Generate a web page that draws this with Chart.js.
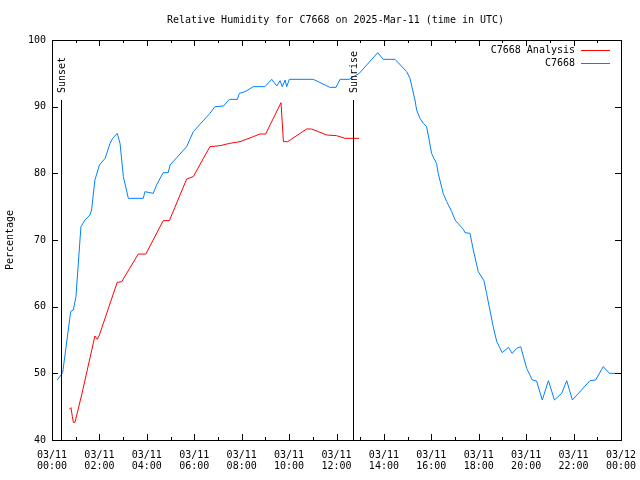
<!DOCTYPE html>
<html>
<head>
<meta charset="utf-8">
<title>Relative Humidity C7668</title>
<script src="https://cdn.jsdelivr.net/npm/chart.js@4/dist/chart.umd.min.js"></script>
<style>
  body { margin: 0; background: #fff; }
  #wrap { width: 640px; height: 480px; }
</style>
</head>
<body>
<div id="wrap"><canvas id="rh" width="640" height="480"></canvas></div>
<script>
var chartTitle = "Relative Humidity for C7668 on 2025-Mar-11 (time in UTC)";

// hours since 03/11 00:00 UTC
var obsHours = [0.22, 0.38, 0.45, 0.79, 0.9, 1.01, 1.22, 1.39, 1.6, 1.67, 1.81, 2.0, 2.24, 2.45, 2.56, 2.75, 2.87, 3.01, 3.22, 3.85,
  3.92, 4.27, 4.41, 4.69, 4.9, 4.98, 5.68, 5.96, 6.66, 6.87, 7.23, 7.48, 7.82, 7.9, 8.14, 8.49, 8.98, 9.27, 9.48, 9.62,
  9.71, 9.83, 9.9, 10.01, 11.02, 11.72, 11.98, 12.15, 12.53, 12.96, 13.74, 13.97, 14.47, 14.96, 15.1, 15.31, 15.38, 15.52, 15.66, 15.8,
  15.91, 16.01, 16.11, 16.22, 16.29, 16.5, 16.65, 16.86, 17.0, 17.35, 17.42, 17.63, 17.77, 17.98, 18.22, 18.33, 18.47, 18.61, 18.76, 18.99,
  19.25, 19.41, 19.6, 19.77, 20.02, 20.26, 20.44, 20.68, 20.94, 21.19, 21.5, 21.71, 21.95, 22.69, 22.93, 23.25, 23.51, 23.85];
var obsValues = [49, 49.75, 50.1, 59.3, 59.5, 61.5, 72, 73, 73.75, 74.5, 79, 81.25, 82.25, 84.5, 85.25, 86, 84.5, 79.5, 76.25, 76.25,
  77.25, 77, 78.25, 80.1, 80.1, 81.25, 84, 86.25, 89, 90, 90.1, 91.1, 91.1, 92, 92.25, 93, 93, 94.1, 93.1, 93.9,
  93, 94, 93, 94.1, 94.1, 92.9, 92.9, 94.1, 94.1, 95, 98.1, 97.1, 97.1, 95.25, 94.25, 91, 89.5, 88.25, 87.5, 87,
  85, 83, 82.25, 81.5, 80, 77, 75.75, 74.25, 73, 71.6, 71.1, 71, 68.5, 65.25, 63.9, 62, 59.5, 57, 54.75, 53.1,
  53.9, 53, 53.75, 54, 50.75, 49, 48.85, 46, 48.9, 46, 47, 48.9, 46, 48.9, 49, 51, 50, 50];

var anaHours = [0.73, 0.8, 0.86, 0.9, 0.97, 1.25, 1.81, 1.91, 2.0, 2.75, 2.94, 3.64, 3.96, 4.69, 4.95, 5.68, 5.96, 6.66, 7.09, 7.5,
  7.93, 8.49, 8.77, 9.01, 9.66, 9.76, 9.94, 10.74, 10.95, 11.59, 12.0, 12.36, 12.96];
var anaValues = [44.6, 44.85, 43.5, 42.65, 42.65, 46.75, 55.6, 55.1, 55.75, 63.65, 63.75, 67.9, 67.9, 72.9, 72.9, 79.15, 79.5, 84, 84.15, 84.5,
  84.75, 85.5, 85.9, 85.9, 90.6, 84.75, 84.75, 86.65, 86.65, 85.75, 85.65, 85.25, 85.25];

var eventNames = ["Sunset", "Sunrise"];
var eventHours = [0.38, 12.71];

var seriesNames = ["C7668 Analysis", "C7668"];
var seriesColors = ["#ff0000", "#0080ff"];

var MONO = "'DejaVu Sans Mono', 'Liberation Mono', monospace";

function toPoints(xs, ys) {
  return xs.map(function (h, i) { return { x: h, y: ys[i] }; });
}

function hourLabel(v) {
  if (v % 2 !== 0) return "";
  var day = v >= 24 ? "03/12" : "03/11";
  var h = v % 24;
  return [day, (h < 10 ? "0" : "") + h + ":00"];
}

// title, frame, inward ticks (gnuplot look), sunset/sunrise markers, legend
var gnuplotBits = {
  id: "gnuplotBits",
  afterDatasetsDraw: function (chart) {
    var ctx = chart.ctx;
    var a = chart.chartArea;
    var xs = chart.scales.x, ys = chart.scales.y;
    ctx.save();
    ctx.font = "10px " + MONO;
    ctx.fillStyle = "#000";
    ctx.textAlign = "center";
    ctx.textBaseline = "middle";
    ctx.fillText(chartTitle, 335.5, 20);

    ctx.strokeStyle = "#000";
    ctx.lineWidth = 1;
    ctx.beginPath();
    xs.ticks.forEach(function (t) {
      var px = Math.round(xs.getPixelForValue(t.value)) + 0.5;
      var len = t.value % 2 === 0 ? 6 : 3;
      ctx.moveTo(px, a.bottom); ctx.lineTo(px, a.bottom - len);
      ctx.moveTo(px, a.top); ctx.lineTo(px, a.top + len);
    });
    ys.ticks.forEach(function (t) {
      var py = Math.round(ys.getPixelForValue(t.value)) + 0.5;
      ctx.moveTo(a.left, py); ctx.lineTo(a.left + 6, py);
      ctx.moveTo(a.right, py); ctx.lineTo(a.right - 6, py);
    });
    ctx.stroke();
    ctx.strokeRect(Math.round(a.left) + 0.5, Math.round(a.top) + 0.5,
      Math.round(a.right - a.left), Math.round(a.bottom - a.top));

    // sunset / sunrise
    var topY = ys.getPixelForValue(91);
    eventHours.forEach(function (h, i) {
      var px = Math.round(xs.getPixelForValue(h)) + 0.5;
      ctx.beginPath();
      ctx.moveTo(px, a.bottom);
      ctx.lineTo(px, topY);
      ctx.stroke();
      ctx.save();
      ctx.translate(px + 1, topY - 7);
      ctx.rotate(-Math.PI / 2);
      ctx.textAlign = "left";
      ctx.textBaseline = "middle";
      ctx.fillText(eventNames[i], 0, 0);
      ctx.restore();
    });

    // legend in the top right corner
    ctx.textAlign = "right";
    ctx.textBaseline = "middle";
    chart.data.datasets.forEach(function (ds, i) {
      var y = a.top + 10 + i * 13;
      ctx.fillStyle = "#000";
      ctx.fillText(ds.label, a.right - 46, y);
      ctx.strokeStyle = ds.borderColor;
      ctx.beginPath();
      ctx.moveTo(a.right - 40, Math.round(y) + 0.5);
      ctx.lineTo(a.right - 11, Math.round(y) + 0.5);
      ctx.stroke();
    });
    ctx.restore();
  }
};

Chart.defaults.color = "#000";
Chart.defaults.font.family = MONO;
Chart.defaults.font.size = 10;

new Chart(document.getElementById("rh"), {
  type: "line",
  data: {
    datasets: [
      {
        label: seriesNames[0],
        data: toPoints(anaHours, anaValues),
        borderColor: seriesColors[0],
        borderWidth: 1,
        pointRadius: 0,
        tension: 0,
        fill: false
      },
      {
        label: seriesNames[1],
        data: toPoints(obsHours, obsValues),
        borderColor: seriesColors[1],
        borderWidth: 1,
        pointRadius: 0,
        tension: 0,
        fill: false
      }
    ]
  },
  options: {
    responsive: false,
    animation: false,
    layout: { padding: { left: 0, right: 19, top: 40, bottom: 0 } },
    plugins: {
      legend: { display: false },
      tooltip: { enabled: false },
      title: { display: false }
    },
    scales: {
      x: {
        type: "linear",
        min: 0,
        max: 24,
        grid: { display: false, drawTicks: false },
        border: { display: false },
        ticks: {
          stepSize: 1,
          autoSkip: false,
          maxRotation: 0,
          minRotation: 0,
          padding: 10,
          font: { family: MONO, size: 10, lineHeight: 1.1 },
          callback: function (v) { return hourLabel(v); }
        },
        afterFit: function (s) {
          s.height = 40;
          // labels at the ends may overhang, keep plot edges fixed
          s.paddingLeft = 0;
          s.paddingRight = 0;
        }
      },
      y: {
        min: 40,
        max: 100,
        grid: { display: false, drawTicks: false },
        border: { display: false },
        ticks: { stepSize: 10, padding: 6 },
        title: {
          display: true,
          text: "Percentage",
          font: { family: MONO, size: 10 },
          padding: { top: 4, bottom: 0 }
        },
        afterFit: function (s) { s.width = 52; }
      }
    }
  },
  plugins: [gnuplotBits]
});
</script>
</body>
</html>
